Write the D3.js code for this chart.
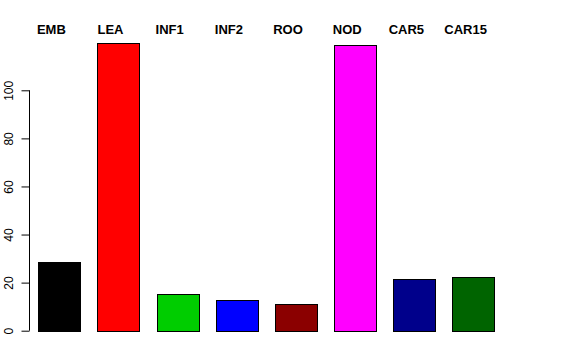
<!DOCTYPE html>
<html>
<head>
<meta charset="utf-8">
<script src="https://cdn.jsdelivr.net/npm/d3@7"></script>
<style>
  body { margin: 0; background: #fff; }
  svg { display: block; font-family: "Liberation Sans", Arial, Helvetica, sans-serif; }
</style>
</head>
<body>
<div id="chart"></div>
<script>
// tissue categories and their values
let categories = ["EMB", "LEA", "INF1", "INF2", "ROO", "NOD", "CAR5", "CAR15"];
let values = [28.7, 119.8, 15.1, 12.8, 11.2, 118.7, 21.4, 22.2];
let barColors = ["#000000", "#ff0000", "#00cd00", "#0000ff", "#8b0000", "#ff00ff", "#00008b", "#006400"];
let yTicks = [0, 20, 40, 60, 80, 100];

let width = 576, height = 360;

let svg = d3.select("#chart").append("svg")
  .attr("width", width)
  .attr("height", height);

let xScale = d3.scaleBand()
  .domain(categories)
  .range([38.2, 494.7])
  .paddingInner(0.2856)
  .paddingOuter(0);

let yScale = d3.scaleLinear()
  .domain([0, 100])
  .range([330.7, 90.3]);

// bars
svg.selectAll(".bar")
  .data(categories)
  .enter()
  .append("rect")
    .attr("class", "bar")
    .attr("x", d => Math.round(xScale(d)) + 0.5)
    .attr("y", (d, i) => Math.round(yScale(values[i])) + 0.5)
    .attr("width", Math.round(xScale.bandwidth()))
    .attr("height", (d, i) => Math.round(yScale(0)) - Math.round(yScale(values[i])))
    .style("fill", (d, i) => barColors[i])
    .style("stroke", "#000")
    .style("stroke-width", 1);

// y axis, R style
let yAxis = d3.axisLeft(yScale)
  .tickValues(yTicks)
  .tickSizeOuter(0)
  .tickSize(8)
  .tickPadding(0)
  .tickFormat(d3.format("d"));

let gy = svg.append("g")
  .attr("class", "y-axis")
  .attr("transform", "translate(29.5,0)")
  .call(yAxis);

gy.select(".domain")
  .attr("d", `M0,${yScale(100)}V${yScale(0)}`)
  .attr("stroke", "#000");
gy.selectAll(".tick line").attr("stroke", "#000");
gy.selectAll(".tick text")
  .attr("x", 0)
  .attr("y", 0)
  .attr("dy", 0)
  .attr("transform", "translate(-17,0) rotate(-90)")
  .attr("text-anchor", "middle")
  .style("font-size", "12px")
  .style("font-family", "\"Liberation Sans\", Arial, sans-serif")
  .attr("fill", "#000");

// category labels on top
svg.selectAll(".cat-label")
  .data(categories)
  .enter()
  .append("text")
    .attr("class", "cat-label")
    .attr("x", d => xScale(d) + xScale.bandwidth() / 2 - 8)
    .attr("y", 34.3)
    .attr("text-anchor", "middle")
    .style("font-size", "13px")
    .style("font-weight", "bold")
    .text(d => d);
</script>
</body>
</html>
